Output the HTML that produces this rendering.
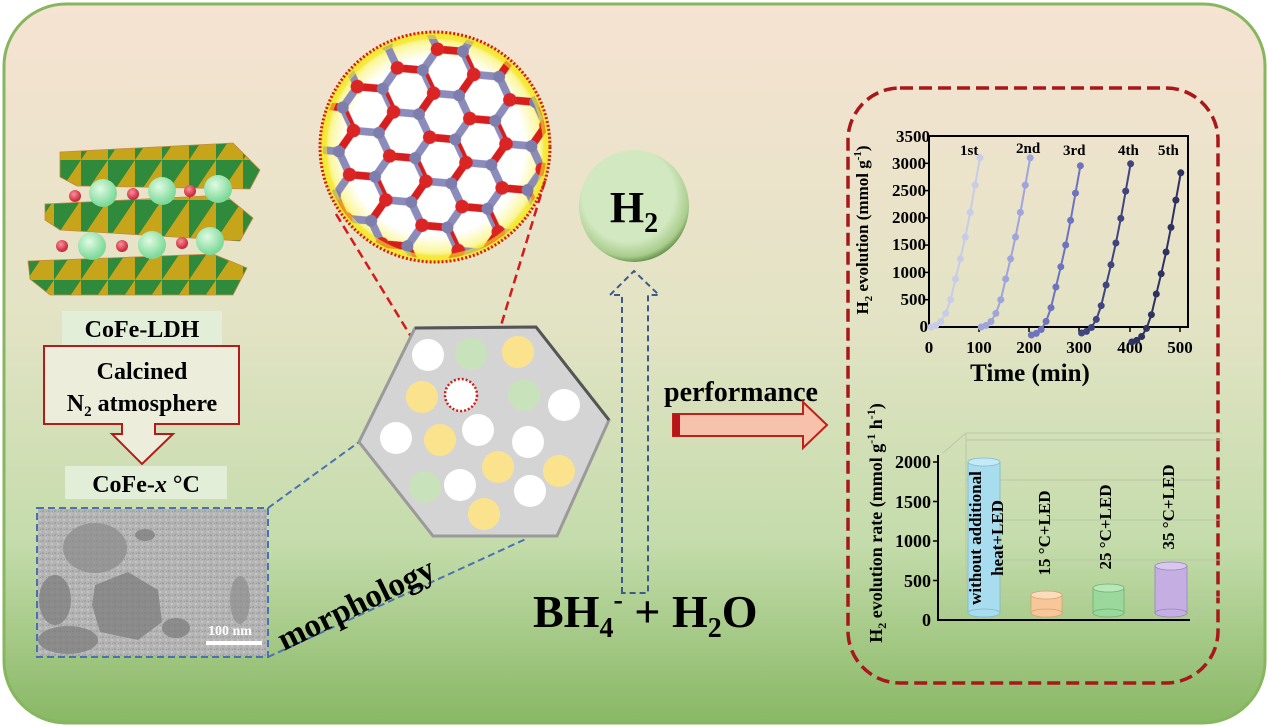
<!DOCTYPE html>
<html><head><meta charset="utf-8"><style>
html,body{margin:0;padding:0;background:#fff;}
svg{display:block;font-family:"Liberation Serif",serif;font-weight:bold;}
</style></head><body>
<svg width="1269" height="727" viewBox="0 0 1269 727" xmlns="http://www.w3.org/2000/svg">
<defs>
<linearGradient id="bg" x1="0" y1="0" x2="0" y2="1">
<stop offset="0" stop-color="#f6e3d2"/><stop offset="0.45" stop-color="#e2e3c4"/><stop offset="0.75" stop-color="#c4dcab"/><stop offset="1" stop-color="#88b865"/></linearGradient>
<radialGradient id="mag" cx="0.5" cy="0.5" r="0.5"><stop offset="0.78" stop-color="#fff"/><stop offset="0.92" stop-color="#fbf7a0"/><stop offset="1" stop-color="#f2e21a"/></radialGradient>
<radialGradient id="h2g" cx="0.45" cy="0.4" r="0.6"><stop offset="0.7" stop-color="#d2e8c0"/><stop offset="0.92" stop-color="#a9cc8c"/><stop offset="1" stop-color="#6f9a55"/></radialGradient>
<radialGradient id="gs" cx="0.4" cy="0.35" r="0.6"><stop offset="0" stop-color="#dffbe2"/><stop offset="1" stop-color="#7ed99a"/></radialGradient>
<radialGradient id="rs" cx="0.4" cy="0.35" r="0.6"><stop offset="0" stop-color="#ff8e9a"/><stop offset="1" stop-color="#c8283c"/></radialGradient>
<pattern id="oct" width="27" height="40" patternUnits="userSpaceOnUse">
<rect width="27" height="40" fill="#b8980e"/><polygon points="0,0 27,0 0,40" fill="#2f8a3c"/><polygon points="27,0 27,40 0,40" fill="#c7a51a"/></pattern>
<pattern id="hon" width="52" height="90" patternUnits="userSpaceOnUse" patternTransform="rotate(-25) scale(0.85)">
<path d="M26,0 L52,15 M52,45 L26,60 M0,45 L0,15" stroke="#d41212" stroke-width="9" fill="none"/>
<path d="M52,15 L52,45 M26,60 L0,45 M0,15 L26,0 M26,60 V90" stroke="#8585b8" stroke-width="9" fill="none"/>
<circle cx="26" cy="0" r="8" fill="#d91a1a"/><circle cx="52" cy="45" r="8" fill="#d91a1a"/><circle cx="0" cy="45" r="8" fill="#d91a1a"/>
<circle cx="26" cy="60" r="7" fill="#7777aa"/><circle cx="52" cy="15" r="7" fill="#7777aa"/><circle cx="0" cy="15" r="7" fill="#7777aa"/><circle cx="26" cy="90" r="8" fill="#d91a1a"/>
</pattern>
<pattern id="noise" width="6" height="6" patternUnits="userSpaceOnUse">
<rect width="6" height="6" fill="#b4b4b4"/><rect x="0" y="0" width="2" height="2" fill="#a2a2a2"/><rect x="3" y="3" width="2" height="2" fill="#c4c4c4"/><rect x="4" y="1" width="1" height="1" fill="#999"/></pattern>
<clipPath id="cc"><circle cx="435" cy="147" r="112"/></clipPath>
<g id="run">
<polyline fill="none" stroke="currentColor" stroke-width="2" points="931,327 935.9,325.4 940.8,321.5 945.7,313.4 950.6,299.7 955.5,279 960.4,258.8 965.3,237 970.2,212.4 975.1,185.1 980,157.8"/>
<g fill="currentColor"><circle cx="931" cy="327" r="3.5"/><circle cx="935.9" cy="325.4" r="3.5"/><circle cx="940.8" cy="321.5" r="3.5"/><circle cx="945.7" cy="313.4" r="3.5"/><circle cx="950.6" cy="299.7" r="3.5"/><circle cx="955.5" cy="279" r="3.5"/><circle cx="960.4" cy="258.8" r="3.5"/><circle cx="965.3" cy="237" r="3.5"/><circle cx="970.2" cy="212.4" r="3.5"/><circle cx="975.1" cy="185.1" r="3.5"/><circle cx="980" cy="157.8" r="3.5"/></g>
</g>
</defs>
<rect width="1269" height="727" fill="#fff"/>
<rect x="4" y="4" width="1261" height="719" rx="62" fill="url(#bg)" stroke="#86b65e" stroke-width="3"/>

<g stroke="#c48a40" stroke-width="0.8">
<polygon points="60,152 233,143 260,170 250,189 77,186 60,177" fill="url(#oct)"/>
<polygon points="45,204 225,195 253,218 240,241 60,230 45,220" fill="url(#oct)"/>
<polygon points="28,261 213,254 247,268 233,295 50,295 30,279" fill="url(#oct)"/>
</g>
<g fill="url(#gs)"><circle cx="103" cy="193" r="14"/><circle cx="162" cy="191" r="14"/><circle cx="218" cy="189" r="14"/><circle cx="92" cy="246" r="14"/><circle cx="152" cy="245" r="14"/><circle cx="210" cy="241" r="14"/></g>
<g fill="url(#rs)"><circle cx="75" cy="196" r="6"/><circle cx="133" cy="194" r="6"/><circle cx="190" cy="191" r="6"/><circle cx="62" cy="246" r="6"/><circle cx="122" cy="246" r="6"/><circle cx="182" cy="243" r="6"/></g>

<rect x="62" y="311" width="160" height="34" fill="#e3eed8"/>
<text x="142" y="337" font-size="24" text-anchor="middle">CoFe-LDH</text>
<path d="M44,346 H239 V424 H155 V434 H173 L142,464 L112,434 H122 V424 H44 Z" fill="#eceedb" stroke="#b41c1c" stroke-width="2"/>
<text x="142" y="379" font-size="24" text-anchor="middle">Calcined</text>
<text x="142" y="411" font-size="24" text-anchor="middle">N<tspan font-size="15" dy="5">2</tspan><tspan dy="-5"> atmosphere</tspan></text>
<rect x="65" y="466" width="162" height="33" fill="#e3eed8"/>
<text x="146" y="492" font-size="24" text-anchor="middle">CoFe-<tspan font-style="italic">x</tspan> °C</text>

<rect x="38" y="509" width="229" height="147" fill="url(#noise)"/>
<g fill="#7a7a7a" opacity="0.7">
<ellipse cx="95" cy="548" rx="32" ry="25" fill="#8a8a8a"/>
<polygon points="95,585 128,572 158,590 162,622 138,640 100,632 92,605"/>
<ellipse cx="55" cy="600" rx="16" ry="25"/>
<ellipse cx="68" cy="640" rx="30" ry="14"/>
<ellipse cx="176" cy="628" rx="14" ry="10"/>
<ellipse cx="240" cy="600" rx="10" ry="24" fill="#8e8e8e"/>
<ellipse cx="145" cy="535" rx="10" ry="6"/>
</g>
<text x="208" y="635" font-size="14" fill="#fff">100 nm</text>
<rect x="206" y="641" width="56" height="4" fill="#fff"/>
<rect x="37" y="508" width="231" height="149" fill="none" stroke="#4a72b0" stroke-width="2" stroke-dasharray="7 4"/>
<line x1="268" y1="508" x2="359" y2="442" stroke="#4a72b0" stroke-width="2" stroke-dasharray="7 4"/>
<line x1="268" y1="657" x2="528" y2="538" stroke="#4a72b0" stroke-width="2" stroke-dasharray="7 4"/>
<text x="284" y="651" font-size="33" transform="rotate(-26 284 651)">morphology</text>

<circle cx="435" cy="147" r="114" fill="url(#mag)"/>
<rect x="320" y="33" width="230" height="230" fill="url(#hon)" clip-path="url(#cc)" opacity="0.95"/>
<circle cx="435" cy="147" r="112" fill="none" stroke="#f5e830" stroke-width="8" opacity="0.6"/>
<circle cx="435" cy="147" r="115" fill="none" stroke="#d41a1a" stroke-width="3" stroke-dasharray="2 2"/>
<line x1="336" y1="214" x2="448" y2="397" stroke="#d41a1a" stroke-width="2.5" stroke-dasharray="9 5"/>
<line x1="545" y1="181" x2="478" y2="401" stroke="#d41a1a" stroke-width="2.5" stroke-dasharray="9 5"/>

<polygon points="415,328 536,327 609,420 557,536 433,536 359,442" fill="#d4d4d4" stroke="#9a9a9a" stroke-width="3"/>
<polyline points="415,328 536,327 609,420" fill="none" stroke="#555" stroke-width="3"/>
<g>
<circle cx="428" cy="355" r="16" fill="#fff"/><circle cx="471" cy="354" r="16" fill="#c8e2bc"/><circle cx="518" cy="352" r="16" fill="#fbe38e"/>
<circle cx="422" cy="397" r="16" fill="#fbe38e"/><circle cx="524" cy="395" r="16" fill="#c8e2bc"/><circle cx="564" cy="405" r="16" fill="#fff"/>
<circle cx="396" cy="438" r="16" fill="#fff"/><circle cx="440" cy="440" r="16" fill="#fbe38e"/><circle cx="478" cy="430" r="16" fill="#fff"/>
<circle cx="528" cy="442" r="16" fill="#fff"/><circle cx="498" cy="467" r="16" fill="#fbe38e"/><circle cx="559" cy="471" r="16" fill="#fbe38e"/>
<circle cx="425" cy="487" r="16" fill="#c8e2bc"/><circle cx="460" cy="485" r="16" fill="#fff"/><circle cx="530" cy="491" r="16" fill="#fff"/>
<circle cx="484" cy="514" r="16" fill="#fbe38e"/>
<circle cx="461" cy="395" r="16" fill="#fff" stroke="#d41a1a" stroke-width="2.5" stroke-dasharray="2 2"/>
</g>

<ellipse cx="634" cy="206" rx="55" ry="56" fill="url(#h2g)"/>
<text x="634" y="222" font-size="44" text-anchor="middle">H<tspan font-size="28" dy="10">2</tspan></text>
<path d="M622,593 V295 H610 L634,271 L659,295 H648 V593 Z" fill="none" stroke="#3c5a8a" stroke-width="2" stroke-dasharray="6 4"/>
<text x="533" y="627" font-size="46">BH<tspan font-size="28" dy="10">4</tspan><tspan font-size="28" dy="-28">-</tspan><tspan dy="18"> + H</tspan><tspan font-size="28" dy="10">2</tspan><tspan dy="-10">O</tspan></text>

<text x="664" y="401" font-size="28">performance</text>
<path d="M673,414 H803 V402 L827,425 L803,448 V436 H673 Z" fill="#f7c2ac" stroke="#c0201c" stroke-width="2"/>
<rect x="673" y="414" width="7" height="22" fill="#b8141a"/>

<rect x="848" y="88" width="370" height="595" rx="52" fill="none" stroke="#a8181a" stroke-width="3.5" stroke-dasharray="13 6"/>

<rect x="929" y="136" width="259" height="191" fill="none" stroke="#000" stroke-width="2"/>
<g stroke="#000" stroke-width="1.5">
<line x1="924" y1="163.3" x2="929" y2="163.3"/><line x1="924" y1="190.6" x2="929" y2="190.6"/><line x1="924" y1="217.9" x2="929" y2="217.9"/><line x1="924" y1="245.1" x2="929" y2="245.1"/><line x1="924" y1="272.4" x2="929" y2="272.4"/><line x1="924" y1="299.7" x2="929" y2="299.7"/>
<line x1="979" y1="327" x2="979" y2="332"/><line x1="1029" y1="327" x2="1029" y2="332"/><line x1="1079" y1="327" x2="1079" y2="332"/><line x1="1130" y1="327" x2="1130" y2="332"/><line x1="1180" y1="327" x2="1180" y2="332"/>
</g>
<g font-size="17" text-anchor="end">
<text x="930" y="142">3500</text><text x="926" y="169">3000</text><text x="926" y="196">2500</text><text x="926" y="223">2000</text><text x="926" y="250">1500</text><text x="926" y="278">1000</text><text x="926" y="305">500</text><text x="928" y="332">0</text>
</g>
<g font-size="17" text-anchor="middle">
<text x="929" y="353">0</text><text x="979" y="353">100</text><text x="1029" y="353">200</text><text x="1079" y="353">300</text><text x="1130" y="353">400</text><text x="1180" y="353">500</text>
</g>
<text x="1030" y="381" font-size="25" text-anchor="middle">Time (min)</text>
<text transform="translate(868 230) rotate(-90)" font-size="17" text-anchor="middle">H<tspan font-size="11" dy="4">2</tspan><tspan dy="-4"> evolution (mmol g</tspan><tspan font-size="11" dy="-7">-1</tspan><tspan dy="7">)</tspan></text>
<use href="#run" color="#c9cce6"/>
<use href="#run" x="50.2" color="#9fa4da"/>
<use href="#run" x="100.4" y="8" color="#6e73bd"/>
<use href="#run" x="150.6" y="6" color="#40457f"/>
<use href="#run" x="200.8" y="15" color="#2f3260"/>
<g font-size="15"><text x="960" y="155">1st</text><text x="1016" y="153">2nd</text><text x="1063" y="155">3rd</text><text x="1118" y="155">4th</text><text x="1158" y="155">5th</text></g>

<g stroke="#b8c8a8" stroke-width="1" fill="none">
<line x1="966" y1="433" x2="1222" y2="433"/><line x1="966" y1="440" x2="1222" y2="440"/><line x1="966" y1="480" x2="1222" y2="480"/><line x1="966" y1="520" x2="1222" y2="520"/><line x1="966" y1="560" x2="1222" y2="560"/>
<line x1="966" y1="433" x2="966" y2="597"/><line x1="966" y1="597" x2="1222" y2="597"/>
<line x1="943" y1="453" x2="966" y2="433"/><line x1="943" y1="617" x2="966" y2="597"/><line x1="1190" y1="620" x2="1212" y2="600"/>
</g>
<g stroke="#000" stroke-width="2"><line x1="938" y1="455" x2="938" y2="621"/><line x1="937" y1="620" x2="1190" y2="620"/></g>
<g stroke="#000" stroke-width="1.5"><line x1="933" y1="462" x2="938" y2="462"/><line x1="933" y1="501.5" x2="938" y2="501.5"/><line x1="933" y1="541" x2="938" y2="541"/><line x1="933" y1="580.5" x2="938" y2="580.5"/></g>
<g font-size="18" text-anchor="end"><text x="931" y="468">2000</text><text x="931" y="508">1500</text><text x="931" y="547">1000</text><text x="931" y="587">500</text><text x="931" y="626">0</text></g>
<text transform="translate(882 523) rotate(-90)" font-size="18" text-anchor="middle">H<tspan font-size="12" dy="4">2</tspan><tspan dy="-4"> evolution rate (mmol g</tspan><tspan font-size="12" dy="-7">-1</tspan><tspan dy="7"> h</tspan><tspan font-size="12" dy="-7">-1</tspan><tspan dy="7">)</tspan></text>
<g stroke-width="0.8">
<rect x="968" y="462" width="32" height="151" fill="#a8dcef" stroke="#7fb8cc"/><ellipse cx="984" cy="613" rx="16" ry="4" fill="#a8dcef" stroke="#7fb8cc"/><ellipse cx="984" cy="462" rx="16" ry="4" fill="#c4eaf6" stroke="#7fb8cc"/>
<rect x="1031" y="595" width="31" height="18" fill="#f7c79a" stroke="#d8a070"/><ellipse cx="1046.5" cy="613" rx="15.5" ry="4" fill="#f7c79a" stroke="#d8a070"/><ellipse cx="1046.5" cy="595" rx="15.5" ry="4" fill="#fbdcbc" stroke="#d8a070"/>
<rect x="1093" y="588" width="31" height="25" fill="#9ad89c" stroke="#6fb070"/><ellipse cx="1108.5" cy="613" rx="15.5" ry="4" fill="#9ad89c" stroke="#6fb070"/><ellipse cx="1108.5" cy="588" rx="15.5" ry="4" fill="#b8e8b8" stroke="#6fb070"/>
<rect x="1155" y="566" width="32" height="47" fill="#c4aee2" stroke="#9a84be"/><ellipse cx="1171" cy="613" rx="16" ry="4" fill="#c4aee2" stroke="#9a84be"/><ellipse cx="1171" cy="566" rx="16" ry="4" fill="#d8c8ee" stroke="#9a84be"/>
</g>
<g font-size="17" text-anchor="middle">
<text transform="translate(981 538) rotate(-90)">without additional</text>
<text transform="translate(1003 538) rotate(-90)">heat+LED</text>
<text transform="translate(1050 533) rotate(-90)">15 °C+LED</text>
<text transform="translate(1111 527) rotate(-90)">25 °C+LED</text>
<text transform="translate(1174 507) rotate(-90)">35 °C+LED</text>
</g>
</svg>
</body></html>
